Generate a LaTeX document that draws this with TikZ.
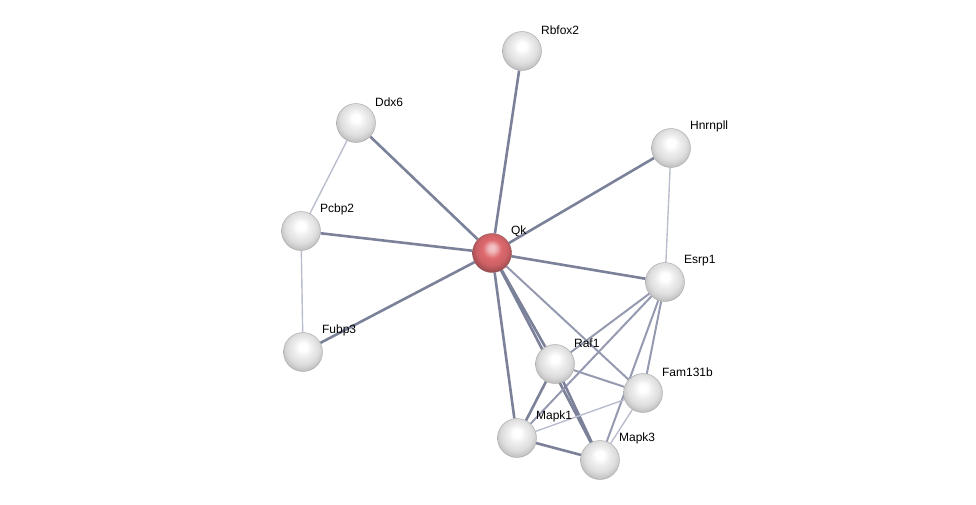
\documentclass[tikz,border=0pt]{standalone}
\usepackage{fontspec}
\setmainfont{Liberation Sans}
\usetikzlibrary{backgrounds}
\definecolor{edgedark}{RGB}{124,129,154}
\definecolor{edgemid}{RGB}{150,154,176}
\definecolor{edgelight}{RGB}{186,189,205}
\definecolor{qkred}{RGB}{222,105,110}
\pgfdeclareradialshading{sphere}{\pgfpoint{0bp}{7bp}}{%
  color(0bp)=(white); color(5bp)=(white); color(12bp)=(gray!14);
  color(20bp)=(gray!26); color(26bp)=(gray!45); color(32bp)=(gray!70); color(50bp)=(gray!70)}
\pgfdeclareradialshading{redsphere}{\pgfpoint{0bp}{7bp}}{%
  color(0bp)=(white!65!qkred); color(5bp)=(white!50!qkred); color(12bp)=(qkred);
  color(20bp)=(qkred!92!black); color(26bp)=(qkred!75!black); color(32bp)=(qkred!55!black); color(50bp)=(qkred!55!black)}

\begin{document}
\begin{tikzpicture}[
  x=1pt, y=-1pt,
  font=\fontsize{12}{14}\selectfont,
  prot/.style={circle, minimum size=39pt, inner sep=0pt, draw=gray!70, line width=0.4pt, shading=sphere},
  query/.style={prot, shading=redsphere, draw=qkred!50!black!80},
  lbl/.style={label distance=0pt, inner sep=2pt, xshift=3pt},
  strong/.style={draw=edgedark, line width=2.6pt},
  medium/.style={draw=edgemid, line width=2pt},
  weak/.style={draw=edgelight, line width=1.4pt},
]
\useasboundingbox (0,0) rectangle (976,505);

% Query protein
\node[query, label={[lbl]45:Qk}] (qk) at (492,253) {};

% Partners
\node[prot, label={[lbl]45:Rbfox2}]  (rbfox2)  at (522,51)  {};
\node[prot, label={[lbl]45:Ddx6}]    (ddx6)    at (356,123) {};
\node[prot, label={[lbl]45:Hnrnpll}] (hnrnpll) at (671,148) {};
\node[prot, label={[lbl]45:Pcbp2}]   (pcbp2)   at (301,231) {};
\node[prot, label={[lbl]45:Esrp1}]   (esrp1)   at (665,282) {};
\node[prot, label={[lbl]45:Fubp3}]   (fubp3)   at (303,352) {};
\node[prot, label={[lbl]45:Raf1}]    (raf1)    at (555,364) {};
\node[prot, label={[lbl]45:Fam131b}] (fam131b) at (643,393) {};
\node[prot, label={[lbl]45:Mapk1}]   (mapk1)   at (517,438) {};
\node[prot, label={[lbl]45:Mapk3}]   (mapk3)   at (600,460) {};

% Edges
\begin{scope}[on background layer]
  \draw[strong] (qk) -- (rbfox2);
  \draw[strong] (qk) -- (ddx6);
  \draw[strong] (qk) -- (hnrnpll);
  \draw[strong] (qk) -- (pcbp2);
  \draw[strong] (qk) -- (esrp1);
  \draw[strong] (qk) -- (fubp3);
  \draw[strong] (qk) -- (raf1);
  \draw[strong] (qk) -- (mapk1);
  \draw[strong] (qk) -- (mapk3);
  \draw[medium] (qk) -- (fam131b);

  \draw[weak] (ddx6) -- (pcbp2);
  \draw[weak] (pcbp2) -- (fubp3);
  \draw[weak] (hnrnpll) -- (esrp1);

  \draw[medium] (esrp1) -- (raf1);
  \draw[medium] (esrp1) -- (mapk1);
  \draw[medium] (esrp1) -- (fam131b);
  \draw[medium] (esrp1) -- (mapk3);

  \draw[medium] (raf1) -- (fam131b);
  \draw[strong] (raf1) -- (mapk1);
  \draw[strong] (raf1) -- (mapk3);
  \draw[strong] (mapk1) -- (mapk3);
  \draw[weak] (mapk1) -- (fam131b);
  \draw[weak] (mapk3) -- (fam131b);
\end{scope}

\end{tikzpicture}
\end{document}
